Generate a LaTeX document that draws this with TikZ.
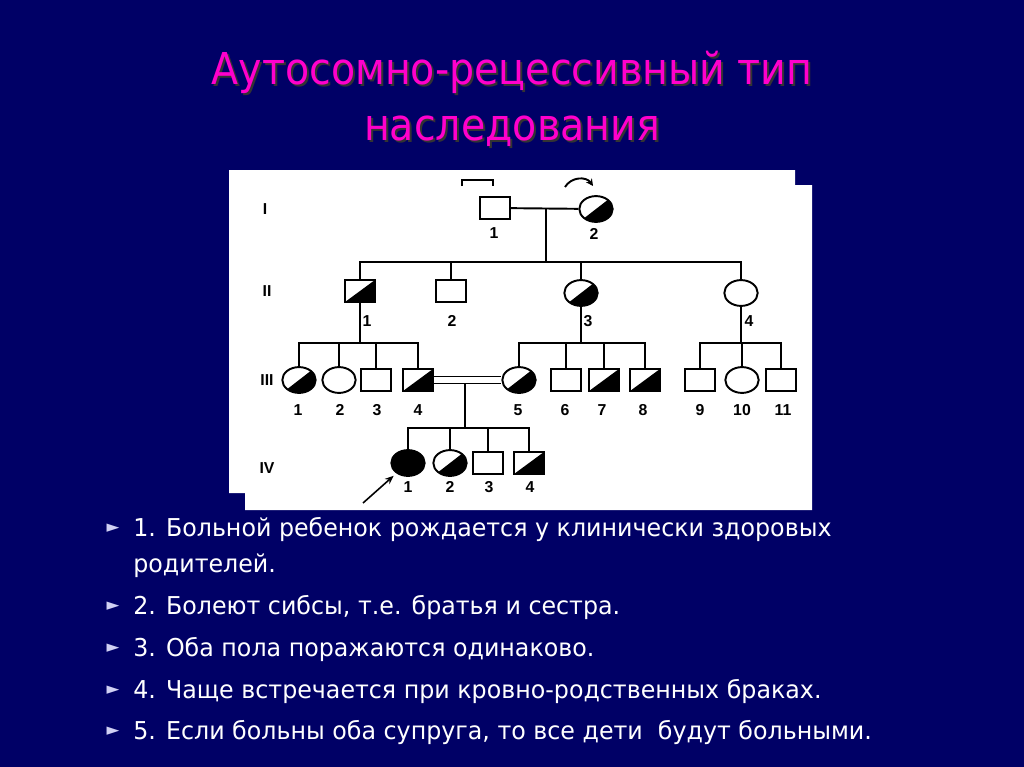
\documentclass[tikz,border=0pt]{standalone}
\usepackage{fontspec}
\setmainfont{DejaVu Sans}
\newfontfamily\titlefont{DejaVu Sans}[FakeStretch=0.9]
\newfontfamily\listfont{DejaVu Sans}[FakeStretch=0.965]
\newfontfamily\lblfont{Liberation Sans}
\usetikzlibrary{shapes.geometric,arrows.meta}

\definecolor{slidebg}{HTML}{000066}
\definecolor{titlepink}{HTML}{FF00CC}
\definecolor{bulletblue}{HTML}{D0D0F4}

\tikzset{
  sq/.style={draw, line width=1.1pt, fill=white, minimum width=17pt, minimum height=12.5pt, inner sep=0pt},
  ci/.style={ellipse, draw, line width=1.1pt, fill=white, minimum width=19pt, minimum height=14.7pt, inner sep=0pt},
  halffill/.style={path picture={\fill[black] (path picture bounding box.south west) -- (path picture bounding box.north east) -- (path picture bounding box.south east) -- cycle;}},
  fullfill/.style={fill=black},
  lbl/.style={font=\lblfont\bfseries\fontsize{9}{10}\selectfont, inner sep=0pt},
  pedline/.style={line width=1.1pt},
  bul/.style={anchor=base west, text=white, font=\listfont\fontsize{14}{16}\selectfont, inner sep=0pt},
  bulletmark/.style={text=bulletblue, font=\fontsize{9.5}{10}\selectfont, inner sep=0pt},
  titletext/.style={font=\titlefont\fontsize{25}{30}\selectfont, inner sep=0pt, anchor=base}
}

\begin{document}
\begin{tikzpicture}[x=0.02cm,y=-0.02cm]

    \useasboundingbox (0,0) rectangle (1024,767);
    \fill[slidebg] (0,0) rectangle (1024,767);

    % title
    \node[titletext, text=black!80] at (514,87) (t1s) {Аутосомно-рецессивный тип};
    \node[titletext, text=titlepink] at (512,85) (t1) {Аутосомно-рецессивный тип};
    \node[titletext, text=black!80] at (514,142) (t2s) {наследования};
    \node[titletext, text=titlepink] at (512,140) (t2) {наследования};

    % white sheet of the pedigree
    \fill[white] (229,170) -- (795,170) -- (795,185) -- (812,185) -- (812,510)
        -- (245,510) -- (245,493) -- (229,493) -- cycle;

    % generation numbers
    \node[lbl] at (265,209) (gI) {I};
    \node[lbl] at (267,291) (gII) {II};
    \node[lbl] at (267,380) (gIII) {III};
    \node[lbl] at (267,468) (gIV) {IV};

    % generation I
    \node[sq] at (495,208) (I1) {};
    \node[ci, halffill] at (596,209) (I2) {};
    \node[lbl] at (494,233) (lI1) {1};
    \node[lbl] at (594,234) (lI2) {2};
    \draw[pedline] (462,186) -- (462,180) -- (493,180) -- (493,186);
    \draw[pedline, -{Stealth[length=4pt,width=4pt]}] (565,187) .. controls (571,177) and (586,176) .. (593,186);

    \coordinate (m1) at (546,208);
    \coordinate (s1) at (546,262);
    \draw[pedline] (I1) -- (I2);
    \draw[pedline] (m1) -- (s1);

    % generation II
    \node[sq, halffill] at (360,291) (II1) {};
    \node[sq] at (451,291) (II2) {};
    \node[ci, halffill] at (581,293) (II3) {};
    \node[ci] at (741,293) (II4) {};
    \node[lbl] at (367,321) (lII1) {1};
    \node[lbl] at (452,321) (lII2) {2};
    \node[lbl] at (588,321) (lII3) {3};
    \node[lbl] at (749,321) (lII4) {4};

    \draw[pedline] (II1) |- (s1) -| (II4);
    \draw[pedline] (II2) -- (II2 |- s1);
    \draw[pedline] (II3) -- (II3 |- s1);

    % generation III
    \node[ci, halffill] at (299,380) (III1) {};
    \node[ci] at (339,380) (III2) {};
    \node[sq] at (376,380) (III3) {};
    \node[sq, halffill] at (418,380) (III4) {};
    \node[ci, halffill] at (519,380) (III5) {};
    \node[sq] at (566,380) (III6) {};
    \node[sq, halffill] at (604,380) (III7) {};
    \node[sq, halffill] at (645,380) (III8) {};
    \node[sq] at (700,380) (III9) {};
    \node[ci] at (742,380) (III10) {};
    \node[sq] at (781,380) (III11) {};
    \node[lbl] at (298,410) (lIII1) {1};
    \node[lbl] at (340,410) (lIII2) {2};
    \node[lbl] at (377,410) (lIII3) {3};
    \node[lbl] at (418,410) (lIII4) {4};
    \node[lbl] at (518,410) (lIII5) {5};
    \node[lbl] at (565,410) (lIII6) {6};
    \node[lbl] at (602,410) (lIII7) {7};
    \node[lbl] at (643,410) (lIII8) {8};
    \node[lbl] at (700,410) (lIII9) {9};
    \node[lbl] at (742,410) (lIII10) {10};
    \node[lbl] at (783,410) (lIII11) {11};

    \coordinate (s2) at (360,343);
    \coordinate (s3) at (581,343);
    \coordinate (s4) at (741,343);
    \draw[pedline] (II1) -- (s2);
    \draw[pedline] (III1) |- (s2) -| (III4);
    \draw[pedline] (III2) -- (III2 |- s2);
    \draw[pedline] (III3) -- (III3 |- s2);
    \draw[pedline] (II3) -- (s3);
    \draw[pedline] (III5) |- (s3) -| (III8);
    \draw[pedline] (III6) -- (III6 |- s3);
    \draw[pedline] (III7) -- (III7 |- s3);
    \draw[pedline] (II4) -- (s4);
    \draw[pedline] (III9) |- (s4) -| (III11);
    \draw[pedline] (III10) -- (III10 |- s4);

    % consanguineous marriage
    \draw[line width=1pt, double=white, double distance=3pt] (III4) -- (III5);
    \coordinate (m2) at (465,383);
    \coordinate (s5) at (465,428);
    \draw[pedline] (m2) -- (s5);

    % generation IV
    \node[ci, fullfill] at (408,463) (IV1) {};
    \node[ci, halffill] at (450,463) (IV2) {};
    \node[sq] at (488,463) (IV3) {};
    \node[sq, halffill] at (529,463) (IV4) {};
    \node[lbl] at (408,487) (lIV1) {1};
    \node[lbl] at (450,487) (lIV2) {2};
    \node[lbl] at (489,487) (lIV3) {3};
    \node[lbl] at (530,487) (lIV4) {4};

    \draw[pedline] (IV1) |- (s5) -| (IV4);
    \draw[pedline] (IV2) -- (IV2 |- s5);
    \draw[pedline] (IV3) -- (IV3 |- s5);

    \coordinate (pr) at (363,503);
    \draw[line width=0.9pt, -{Stealth[length=5pt,width=4pt]}, shorten >=2pt] (pr) -- (IV1);

    % list
    \node[bulletmark] at (113,528) (b1) {►};
    \node[bulletmark] at (113,606) (b2) {►};
    \node[bulletmark] at (113,648) (b3) {►};
    \node[bulletmark] at (113,690) (b4) {►};
    \node[bulletmark] at (113,731) (b5) {►};
    \node[bul] at (133,536) (p1) {1. Больной ребенок рождается у клинически здоровых};
    \node[bul] at (133,572) (p1b) {родителей.};
    \node[bul] at (133,614) (p2) {2. Болеют сибсы, т.е. братья и сестра.};
    \node[bul] at (133,656) (p3) {3. Оба пола поражаются одинаково.};
    \node[bul] at (133,698) (p4) {4. Чаще встречается при кровно-родственных браках.};
    \node[bul] at (133,739) (p5) {5. Если больны оба супруга, то все дети\ \ будут больными.};

\end{tikzpicture}
\end{document}
